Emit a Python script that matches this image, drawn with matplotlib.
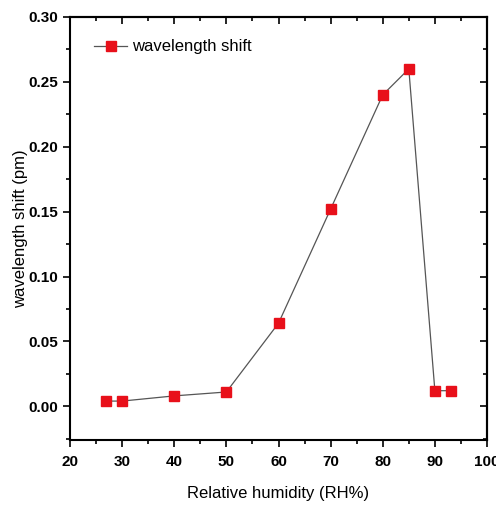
import numpy as np
import matplotlib.pyplot as plt
from matplotlib.ticker import MultipleLocator

# DATA
humidity = [27, 30, 40, 50, 60, 70, 80, 85, 90, 93]
shift = [0.004, 0.004, 0.008, 0.011, 0.064, 0.152, 0.240, 0.260, 0.012, 0.012]

plt.rcParams['font.family'] = ['Liberation Sans Narrow', 'Liberation Sans', 'DejaVu Sans']

fig = plt.figure(figsize=(4.96, 5.09), dpi=100)
ax = fig.add_axes([70 / 496, 69 / 509, 417 / 496, 423 / 509])

ax.plot(humidity, shift, color='#555555', lw=0.9, marker='s', ms=7,
        mfc='#e8101a', mec='#e8101a', label='wavelength shift')

ax.set_xlim(20, 100)
ax.set_ylim(-0.026, 0.30)
ax.xaxis.set_major_locator(MultipleLocator(10))
ax.xaxis.set_minor_locator(MultipleLocator(5))
ax.yaxis.set_major_locator(MultipleLocator(0.05))
ax.yaxis.set_minor_locator(MultipleLocator(0.025))
ax.yaxis.set_major_formatter(plt.FormatStrFormatter('%.2f'))

ax.tick_params(which='both', direction='out', width=1.2, labelsize=11)
ax.tick_params(which='major', length=5)
ax.tick_params(which='minor', length=3)
ax.tick_params(axis='x', which='major', pad=6)
for lab in ax.get_xticklabels() + ax.get_yticklabels():
    lab.set_fontweight('bold')

# inward ticks on top and right
axt = ax.secondary_xaxis('top')
axt.xaxis.set_major_locator(MultipleLocator(10))
axt.xaxis.set_minor_locator(MultipleLocator(5))
axt.tick_params(which='both', direction='in', labeltop=False, width=1.2)
axt.tick_params(which='major', length=5)
axt.tick_params(which='minor', length=3)
axr = ax.secondary_yaxis('right')
axr.yaxis.set_major_locator(MultipleLocator(0.05))
axr.yaxis.set_minor_locator(MultipleLocator(0.025))
axr.tick_params(which='both', direction='in', labelright=False, width=1.2)
axr.tick_params(which='major', length=5)
axr.tick_params(which='minor', length=3)

for s in ax.spines.values():
    s.set_linewidth(1.5)
axt.spines['top'].set_linewidth(1.5)
axr.spines['right'].set_linewidth(1.5)

ax.set_xlabel('Relative humidity (RH%)', fontsize=12)
ax.set_ylabel('wavelength shift (pm)', fontsize=12)
ax.xaxis.set_label_coords(0.5, (440 - 486) / 423)
ax.yaxis.set_label_coords((28 - 70) / 417, 0.5)

ax.legend(loc='center left', frameon=False, fontsize=12, handlelength=2.0,
          handletextpad=0.3, borderpad=0, borderaxespad=0,
          bbox_to_anchor=(24 / 417, (440 - 47) / 423))

fig.savefig('out.png', dpi=100)
